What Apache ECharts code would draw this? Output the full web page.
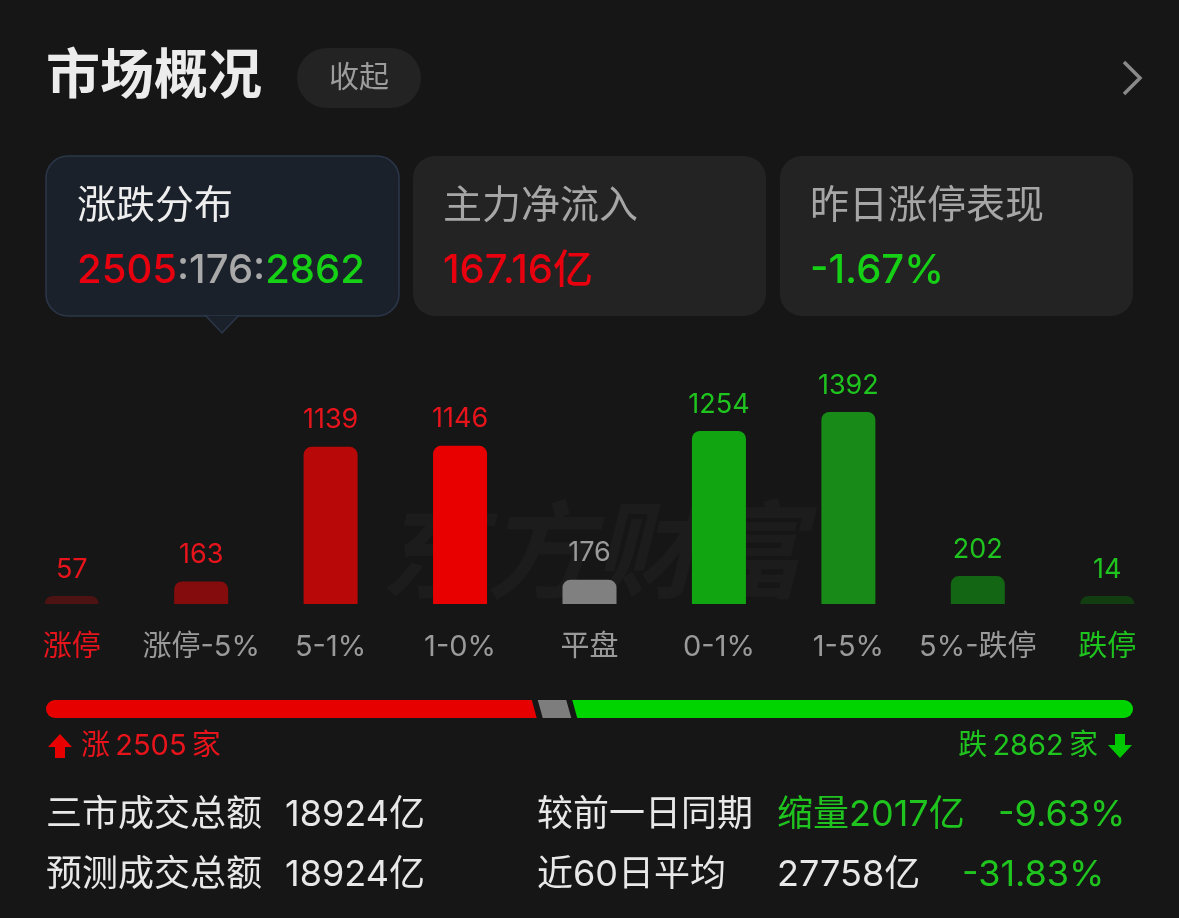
<!DOCTYPE html>
<html>
<head>
<meta charset="utf-8">
<script src="https://cdn.jsdelivr.net/npm/echarts@6/dist/echarts.min.js"></script>
<style>
html,body{margin:0;padding:0;background:#161616;}
#main{width:1179px;height:918px;}
</style>
</head>
<body>
<div id="main"></div>
<script>
// ---- data ----
const categories = ['涨停', '涨停-5%', '5-1%', '1-0%', '平盘', '0-1%', '1-5%', '5%-跌停', '跌停'];
const counts = [57, 163, 1139, 1146, 176, 1254, 1392, 202, 14];
const upCount = 2505;
const flatCount = 176;
const downCount = 2862;
const netInflow = '167.16亿';
const yesterdayLimitUp = '-1.67%';
const turnoverTotal = '18924亿';
const forecastTotal = '18924亿';
const vsPrevDay = '缩量2017亿';
const vsPrevDayPct = '-9.63%';
const avg60 = '27758亿';
const avg60Pct = '-31.83%';

// ---- styles ----
const FONT = 'Inter, "Noto Sans CJK SC", sans-serif';
const RED = '#e8141c', GREEN = '#1fc41f', GRAY = '#9a9a9a', WHITE = '#e8e8e8';
const barColors = ['#4d1212', '#850c0c', '#b80808', '#e80000', '#808080', '#12a512', '#178a17', '#136613', '#113d11'];
const labelColors = [RED, RED, RED, RED, GRAY, GREEN, GREEN, GREEN, GREEN];
const progressColors = ['#e60000', '#7d7d7d', '#00d400'];

const total = upCount + flatCount + downCount;
const segments = [
  [0, upCount],
  [upCount, upCount + flatCount],
  [upCount + flatCount, total]
];

const chart = echarts.init(document.getElementById('main'), null, {renderer: 'canvas'});

function progressItem(params, api) {
  const i = params.dataIndex;
  const n = segments.length;
  const yt = api.coord([0, 1])[1];
  const yb = api.coord([0, 0])[1];
  const a = api.coord([api.value(0), 0])[0];
  const b = api.coord([api.value(1), 0])[0];
  const s = 5, g = 3, r = (yb - yt) / 2;
  const lt = i === 0 ? a + r : a + g - s / 2;
  const lb = i === 0 ? a + r : a + g + s / 2;
  const rt = i === n - 1 ? b - r : b - g - s / 2;
  const rb = i === n - 1 ? b - r : b - g + s / 2;
  let d = 'M' + lt + ' ' + yt + ' L' + rt + ' ' + yt;
  if (i === n - 1) {
    d += ' A' + r + ' ' + r + ' 0 0 1 ' + rb + ' ' + yb;
  } else {
    d += ' L' + rb + ' ' + yb;
  }
  d += ' L' + lb + ' ' + yb;
  if (i === 0) {
    d += ' A' + r + ' ' + r + ' 0 0 1 ' + lt + ' ' + yt;
  }
  d += ' Z';
  return {type: 'path', shape: {pathData: d}, style: {fill: progressColors[i]}};
}

function text(x, y, str, size, color, extra) {
  return {
    type: 'text', x: x, y: y, silent: true,
    style: Object.assign({
      text: str, fill: color, font: 'normal ' + size + 'px ' + FONT,
      verticalAlign: 'middle', textAlign: 'left'
    }, extra || {})
  };
}

const option = {
  backgroundColor: '#161616',
  animation: false,
  textStyle: {fontFamily: FONT},
  grid: [
    {left: 7, right: 7, top: 328, height: 276},
    {left: 46, right: 46, top: 700, height: 18}
  ],
  xAxis: [
    {
      type: 'category', gridIndex: 0, data: categories,
      axisLine: {show: false}, axisTick: {show: false},
      axisLabel: {
        interval: 0, margin: 29, fontSize: 29, color: GRAY, fontFamily: FONT,
        formatter: function (v, idx) {
          if (idx === 0) return '{r|' + v + '}';
          if (idx === categories.length - 1) return '{g|' + v + '}';
          return '{n|' + v + '}';
        },
        rich: {
          r: {color: RED, fontSize: 29, fontFamily: FONT},
          g: {color: GREEN, fontSize: 29, fontFamily: FONT},
          n: {color: GRAY, fontSize: 29, fontFamily: FONT}
        }
      }
    },
    {type: 'value', gridIndex: 1, min: 0, max: total, show: false}
  ],
  yAxis: [
    {type: 'value', gridIndex: 0, min: 0, max: 2000, show: false, splitLine: {show: false}},
    {type: 'value', gridIndex: 1, min: 0, max: 1, show: false, splitLine: {show: false}}
  ],
  series: [
    {
      type: 'bar', xAxisIndex: 0, yAxisIndex: 0,
      barWidth: 54, barMinHeight: 8,
      data: counts.map(function (v, i) {
        return {
          value: v,
          itemStyle: {color: barColors[i], borderRadius: [8, 8, 0, 0]},
          label: {color: labelColors[i]}
        };
      }),
      label: {show: true, position: 'top', distance: 13, fontSize: 27, fontFamily: FONT}
    },
    {
      type: 'custom', xAxisIndex: 1, yAxisIndex: 1,
      encode: {x: [0, 1]},
      data: segments,
      renderItem: progressItem
    }
  ],
  graphic: [
    // watermark
    text(592, 550, '东方财富', 106, 'rgba(255,255,255,0.028)', {
      textAlign: 'center', font: 'italic bold 106px "Noto Sans CJK SC", sans-serif'
    }),
    // title
    text(46, 78, '市场概况', 54, '#ececec', {font: 'bold 54px ' + FONT}),
    {type: 'rect', shape: {x: 297, y: 48, width: 124, height: 60, r: 30}, style: {fill: '#232323'}},
    text(359, 78, '收起', 30, '#9c9c9c', {textAlign: 'center'}),
    {type: 'polyline', shape: {points: [[1124, 62], [1140, 78], [1124, 94]]},
      style: {stroke: '#8a8a8a', lineWidth: 3.5, fill: null}},
    // cards
    {type: 'rect', shape: {x: 413, y: 156, width: 353, height: 160, r: 22}, style: {fill: '#232323'}},
    {type: 'rect', shape: {x: 780, y: 156, width: 353, height: 160, r: 22}, style: {fill: '#232323'}},
    {type: 'rect', shape: {x: 46, y: 156, width: 353, height: 160, r: 22},
      style: {fill: '#1b212b', stroke: '#2b3749', lineWidth: 1.5}},
    {type: 'polygon', shape: {points: [[205, 315], [222, 333], [239, 315]]},
      style: {fill: '#1b212b', stroke: '#2b3749', lineWidth: 1.5}},
    {type: 'rect', shape: {x: 204, y: 312, width: 36, height: 3}, style: {fill: '#1b212b'}},
    text(77, 206, '涨跌分布', 39, '#eeeeee'),
    {
      type: 'text', x: 77, y: 271, silent: true,
      style: {
        text: '{r|' + upCount + '}{n|:' + flatCount + ':}{g|' + downCount + '}',
        verticalAlign: 'middle',
        rich: {
          r: {fill: '#e8000f', font: '500 40px ' + FONT},
          n: {fill: '#a8a8a8', font: '500 40px ' + FONT},
          g: {fill: '#16d016', font: '500 40px ' + FONT}
        }
      }
    },
    text(443, 206, '主力净流入', 39, '#a6a6a6'),
    text(443, 271, netInflow, 40, '#e8000f', {font: '500 40px ' + FONT}),
    text(810, 206, '昨日涨停表现', 39, '#a6a6a6'),
    text(810, 271, yesterdayLimitUp, 40, '#16d016', {font: '500 40px ' + FONT}),
    // progress captions
    {type: 'polygon', shape: {points: [[60, 734], [48, 747], [55, 747], [55, 758], [65, 758], [65, 747], [72, 747]]},
      style: {fill: '#e60000'}},
    text(81, 746, '涨\u2009' + upCount + '\u2009家', 29, RED),
    {type: 'polygon', shape: {points: [[1120, 758], [1108, 745], [1115, 745], [1115, 734], [1125, 734], [1125, 745], [1132, 745]]},
      style: {fill: '#00c800'}},
    text(1098, 746, '跌\u2009' + downCount + '\u2009家', 29, GREEN, {textAlign: 'right'}),
    // bottom rows
    text(46, 815, '三市成交总额', 36, WHITE),
    text(285, 815, turnoverTotal, 36, WHITE),
    text(46, 875, '预测成交总额', 36, WHITE),
    text(285, 875, forecastTotal, 36, WHITE),
    text(537, 815, '较前一日同期', 36, WHITE),
    text(777, 815, vsPrevDay, 36, GREEN),
    text(998, 815, vsPrevDayPct, 36, GREEN),
    text(537, 875, '近60日平均', 36, WHITE),
    text(777, 875, avg60, 36, WHITE),
    text(962, 875, avg60Pct, 36, GREEN)
  ]
};
chart.setOption(option);
</script>
</body>
</html>
